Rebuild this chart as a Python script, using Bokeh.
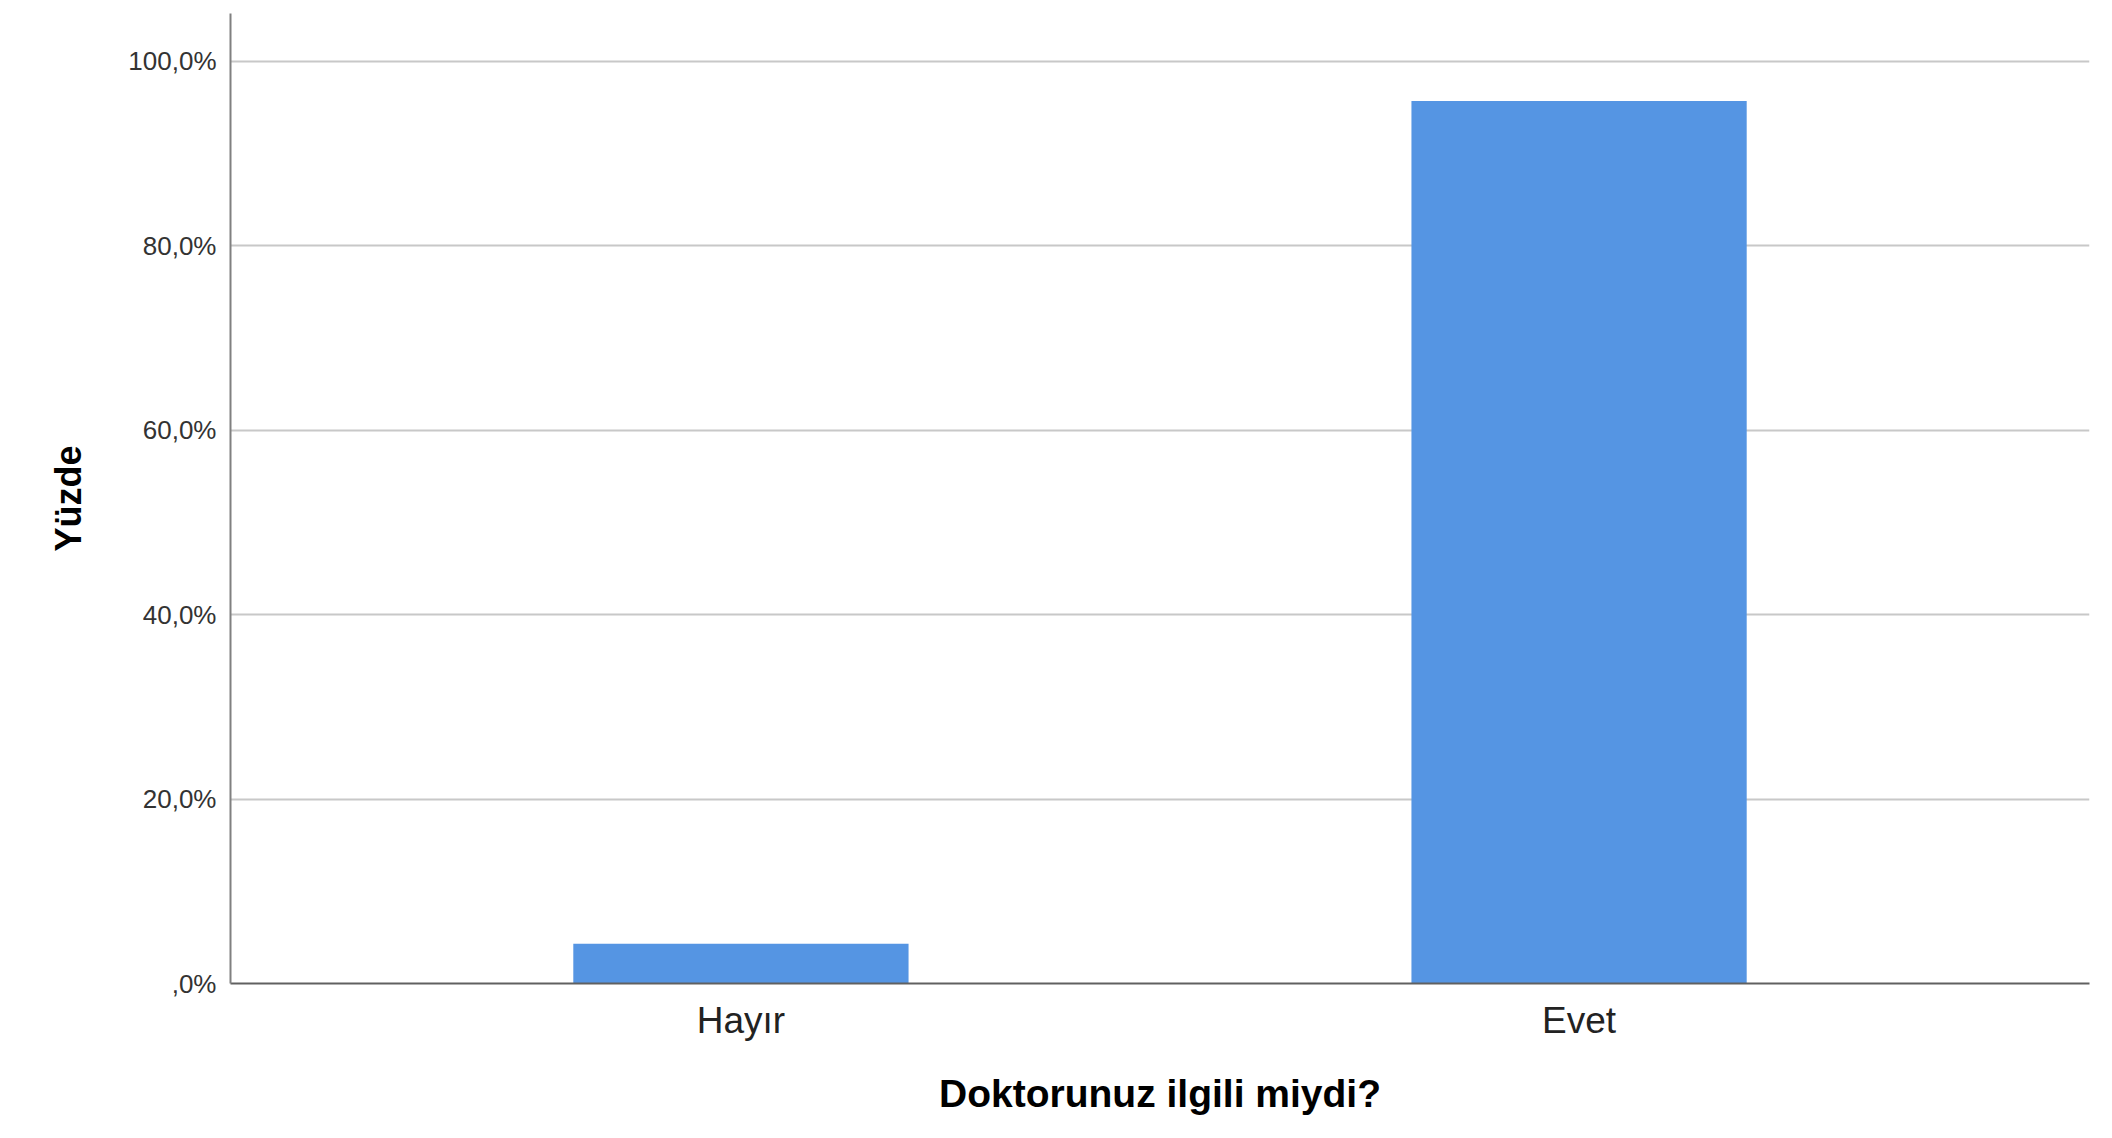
from bokeh.plotting import figure
from bokeh.models import FactorRange, Range1d, ColumnDataSource
from bokeh.embed import file_html
from bokeh.resources import INLINE

# Data
categories = ["Hayır", "Evet"]
percentages = [4.3, 95.7]
y_ticks = [0, 20, 40, 60, 80, 100]
y_tick_labels = [",0%", "20,0%", "40,0%", "60,0%", "80,0%", "100,0%"]
x_title = "Doktorunuz ilgili miydi?"
y_title = "Yüzde"

src = ColumnDataSource(data=dict(cat=categories, pct=percentages))

p = figure(
    x_range=FactorRange(factors=categories, range_padding=0.109, range_padding_units="percent"),
    y_range=Range1d(0, 105.2),
    width=2096, height=1122,
    output_backend="svg", toolbar_location=None,
    min_border_left=230, min_border_right=7, min_border_top=13, min_border_bottom=139,
)
p.background_fill_color = "white"
p.border_fill_color = "white"
p.outline_line_color = None

p.vbar(x="cat", top="pct", width=0.4, source=src, fill_color="#5595e3", line_color=None)

# grid
p.xgrid.grid_line_color = None
p.ygrid.grid_line_color = "#c8c8c8"
p.ygrid.grid_line_width = 2
p.ygrid.ticker = y_ticks

# y axis
p.yaxis.ticker = y_ticks
p.yaxis.major_label_overrides = {t: l for t, l in zip(y_ticks, y_tick_labels)}
p.yaxis.major_tick_line_color = None
p.yaxis.major_tick_out = 0
p.yaxis.major_tick_in = 0
p.yaxis.minor_tick_line_color = None
p.yaxis.axis_line_color = "#808080"
p.yaxis.axis_line_width = 2
p.yaxis.major_label_text_font = "Liberation Sans"
p.yaxis.major_label_text_font_size = "26px"
p.yaxis.major_label_text_color = "#333333"
p.yaxis.major_label_standoff = 14
p.yaxis.axis_label = y_title
p.yaxis.axis_label_text_font = "Liberation Sans"
p.yaxis.axis_label_text_font_size = "36px"
p.yaxis.axis_label_text_font_style = "bold"
p.yaxis.axis_label_text_color = "black"
p.yaxis.axis_label_standoff = 36

# x axis
p.xaxis.major_tick_line_color = None
p.xaxis.major_tick_out = 0
p.xaxis.major_tick_in = 0
p.xaxis.axis_line_color = "#606060"
p.xaxis.axis_line_width = 2
p.xaxis.major_label_text_font = "Liberation Sans"
p.xaxis.major_label_text_font_size = "37px"
p.xaxis.major_label_text_color = "#222222"
p.xaxis.major_label_standoff = 16
p.xaxis.axis_label = x_title
p.xaxis.axis_label_text_font = "Liberation Sans"
p.xaxis.axis_label_text_font_size = "39px"
p.xaxis.axis_label_text_font_style = "bold"
p.xaxis.axis_label_text_color = "black"
p.xaxis.axis_label_standoff = 28

open("out.html", "w").write(file_html(p, INLINE))
